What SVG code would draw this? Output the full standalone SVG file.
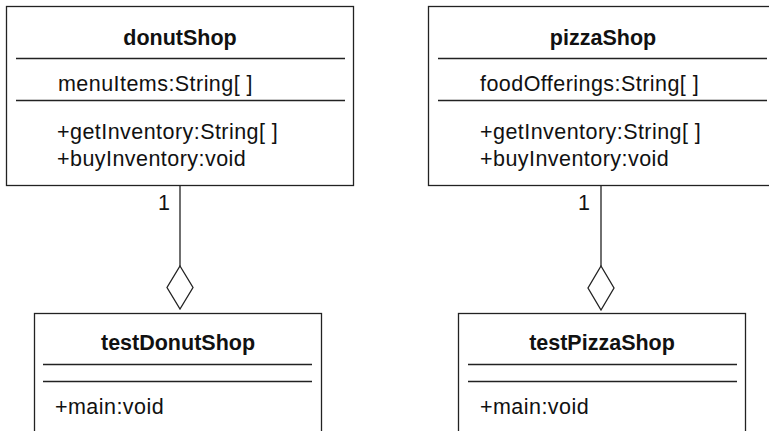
<svg xmlns="http://www.w3.org/2000/svg" width="769" height="431" viewBox="0 0 769 431">
<style>
.box{fill:#fff;stroke:#222;stroke-width:1.3}
.sep{stroke:#222;stroke-width:1.3}
.t{font-family:"Liberation Sans",Arial,Helvetica,sans-serif;font-size:21.5px;fill:#111;letter-spacing:0.45px}
.b{font-weight:bold;text-anchor:middle;letter-spacing:0}
.conn{stroke:#222;stroke-width:1.3;fill:none}
.dia{fill:#fff;stroke:#222;stroke-width:1.3}
</style>
<rect width="769" height="431" fill="#fff"/>
<g id="connectors">
<line class="conn" x1="180" y1="186" x2="180" y2="266"/>
<polygon class="dia" points="180,266 193,287.5 180,309 167,287.5"/>
<text class="t" x="158" y="210">1</text>
<line class="conn" x1="601" y1="186" x2="601" y2="266"/>
<polygon class="dia" points="601,266 614,288 601,310 588,288"/>
<text class="t" x="578" y="210">1</text>
</g>
<g id="donutShop">
<rect class="box" x="6.5" y="6.5" width="347" height="179"/>
<text class="t b" x="180" y="45">donutShop</text>
<line class="sep" x1="16" y1="58.5" x2="345" y2="58.5"/>
<text class="t" x="58" y="91">menuItems:String[ ]</text>
<line class="sep" x1="16" y1="100.5" x2="345" y2="100.5"/>
<text class="t" x="57" y="139">+getInventory:String[ ]</text>
<text class="t" x="57" y="166">+buyInventory:void</text>
</g>
<g id="pizzaShop">
<rect class="box" x="428.5" y="6.5" width="347" height="179"/>
<text class="t b" x="603" y="45">pizzaShop</text>
<line class="sep" x1="438" y1="58.5" x2="767" y2="58.5"/>
<text class="t" x="480" y="91">foodOfferings:String[ ]</text>
<line class="sep" x1="438" y1="100.5" x2="767" y2="100.5"/>
<text class="t" x="480" y="139">+getInventory:String[ ]</text>
<text class="t" x="480" y="166">+buyInventory:void</text>
</g>
<g id="testDonutShop">
<rect class="box" x="34.5" y="313.5" width="287" height="130"/>
<text class="t b" x="178" y="350">testDonutShop</text>
<line class="sep" x1="43" y1="364.5" x2="312" y2="364.5"/>
<line class="sep" x1="43" y1="381.5" x2="312" y2="381.5"/>
<text class="t" x="55" y="414">+main:void</text>
</g>
<g id="testPizzaShop">
<rect class="box" x="458.5" y="313.5" width="287" height="130"/>
<text class="t b" x="602" y="350">testPizzaShop</text>
<line class="sep" x1="468" y1="364.5" x2="737" y2="364.5"/>
<line class="sep" x1="468" y1="381.5" x2="737" y2="381.5"/>
<text class="t" x="480" y="414">+main:void</text>
</g>
</svg>
